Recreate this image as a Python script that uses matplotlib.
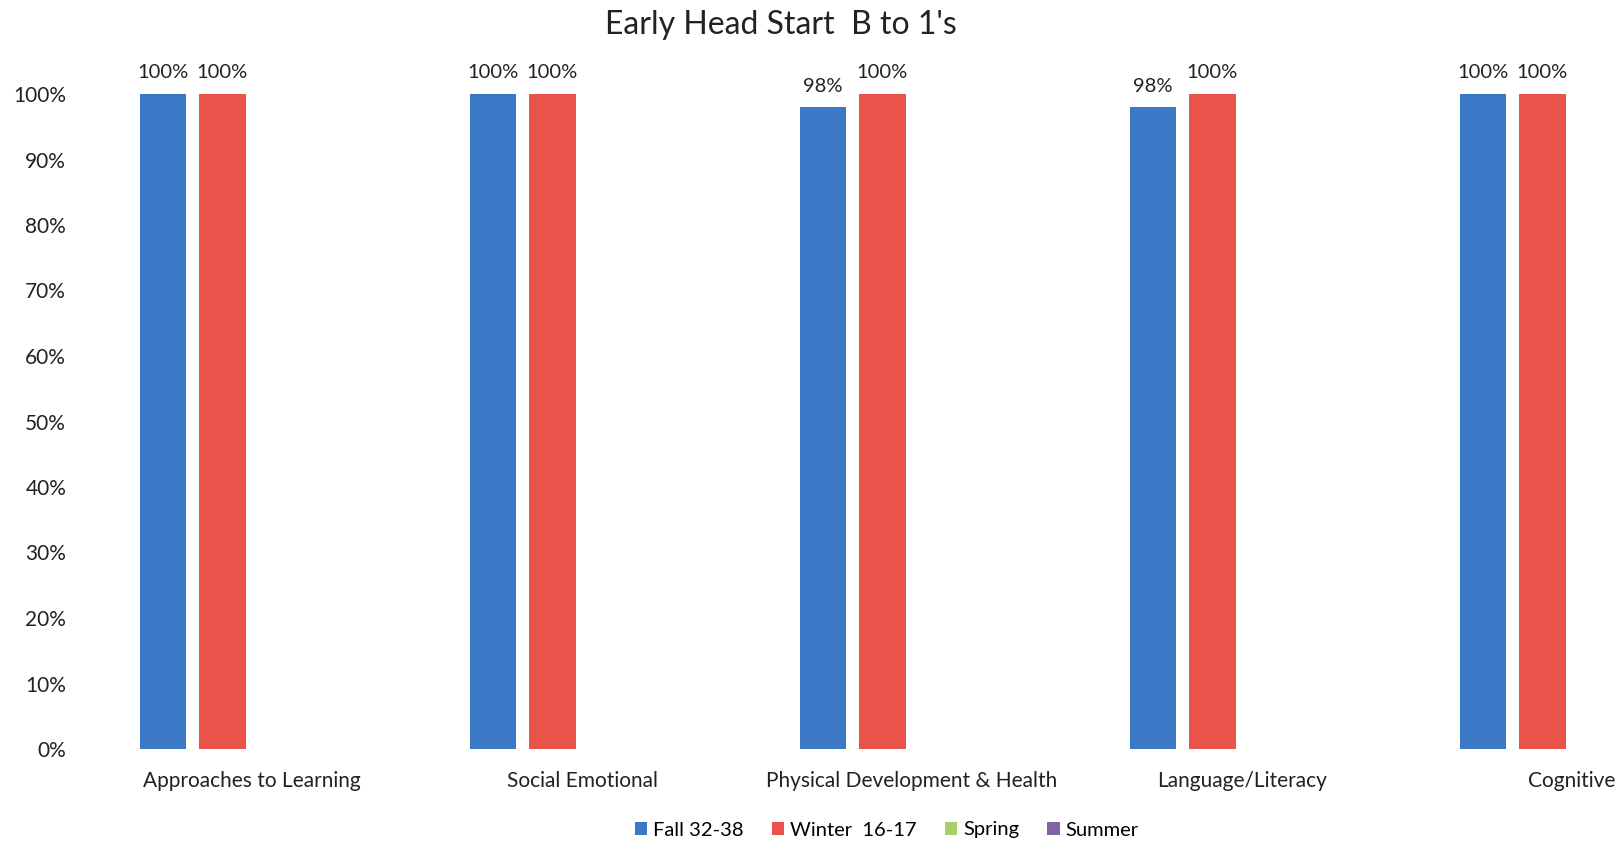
import numpy as np
import matplotlib
matplotlib.use('Agg')
import matplotlib.pyplot as plt
from matplotlib.ticker import PercentFormatter

plt.rcParams['font.family'] = ['Lato', 'DejaVu Sans']

categories = ['Approaches to Learning', 'Social Emotional', 'Physical Development & Health',
              'Language/Literacy', 'Cognitive']
series = ['Fall 32-38', 'Winter  16-17', 'Spring', 'Summer']
fall = [1.00, 1.00, 0.98, 0.98, 1.00]
winter = [1.00, 1.00, 1.00, 1.00, 1.00]
spring = [np.nan] * 5
summer = [np.nan] * 5
colors = ['#3b78c6', '#e9534a', '#a9cf6a', '#8064a2']

fig = plt.figure(figsize=(16.2, 8.43), dpi=100)
ax = fig.add_axes([87 / 1620, 94 / 843, 1650 / 1620, 655 / 843])

x = np.arange(len(categories))
step = 0.18
width = 0.141
handles = []
for k, (name, vals, c) in enumerate(zip(series, [fall, winter, spring, summer], colors)):
    pos = x + (k - 1.5) * step
    bars = ax.bar(pos, np.nan_to_num(vals), width, color=c, label=name)
    handles.append(bars)
    for p, v in zip(pos, vals):
        if not np.isnan(v):
            ax.annotate(f'{v:.0%}', (p, v), xytext=(0, 9), textcoords='offset points',
                        ha='center', va='bottom', fontsize=14.5, color='#222222')

ax.set_xlim(-0.5, 4.5)
ax.set_ylim(0, 1.0)
ax.set_yticks(np.arange(0, 1.01, 0.1))
ax.yaxis.set_major_formatter(PercentFormatter(1.0, decimals=0))
ax.set_xticks(x)
ax.set_xticklabels(categories)
ax.tick_params(axis='both', length=0, labelsize=15, colors='#222222')
ax.tick_params(axis='x', pad=16)
ax.tick_params(axis='y', pad=15)
for s in ax.spines.values():
    s.set_visible(False)

fig.text(781 / 1620, 1 - 25 / 843, "Early Head Start  B to 1's", ha='center', va='center',
         fontsize=23, color='#222222')

fig.legend(handles=handles, labels=series, loc='center', bbox_to_anchor=(887 / 1620, 1 - 830 / 843),
           ncol=4, frameon=False, fontsize=14.5, handlelength=0.6, handleheight=0.6,
           handletextpad=0.3, columnspacing=1.4)

fig.savefig('out.png', dpi=100)
